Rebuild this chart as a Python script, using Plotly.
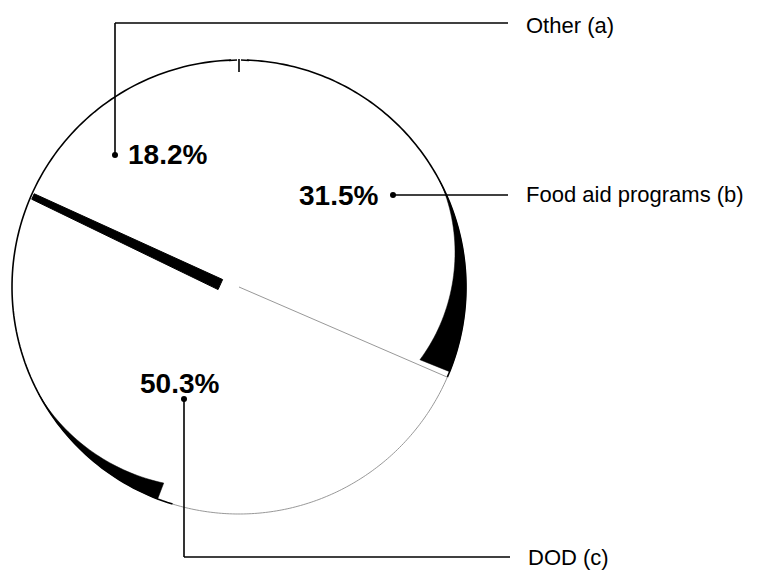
import math
import plotly.graph_objects as go

# ---- data ----
categories = ["Food aid programs (b)", "DOD (c)", "Other (a)"]
shares = [31.5, 50.3, 18.2]
pct_labels = ["31.5%", "50.3%", "18.2%"]

W, H = 760, 570
CX, CY, R = 239, 287, 227   # pie centre / radius in pixels (layout)

def px(x, y):
    return x / W, 1 - y / H

def polar(t_deg, r):
    t = math.radians(t_deg)
    return CX + r * math.sin(t), CY - r * math.cos(t)

fig = go.Figure()

x0, y_top = px(CX - R, CY - R)
x1, y_bot = px(CX + R, CY + R)
fig.add_trace(go.Pie(
    labels=categories,
    values=shares,
    sort=False,
    direction="clockwise",
    rotation=0,
    textinfo="none",
    hoverinfo="label+percent",
    marker=dict(colors=["white"] * len(shares), line=dict(color="white", width=0)),
    domain=dict(x=[x0, x1], y=[y_bot, y_top]),
    showlegend=False,
))

shapes = []
annotations = []

def pstr(points, close=True):
    s = ""
    for i, (x, y) in enumerate(points):
        p = px(x, y)
        s += ("M" if i == 0 else "L") + f"{p[0]:.5f},{p[1]:.5f} "
    return s + ("Z" if close else "")

def line(xa, ya, xb, yb, color="black", width=1.6):
    a = px(xa, ya)
    b = px(xb, yb)
    shapes.append(dict(type="line", xref="paper", yref="paper",
                       x0=a[0], y0=a[1], x1=b[0], y1=b[1],
                       line=dict(color=color, width=width)))

def dot(x, y, r=3):
    a = px(x - r, y - r)
    b = px(x + r, y + r)
    shapes.append(dict(type="circle", xref="paper", yref="paper",
                       x0=a[0], y0=b[1], x1=b[0], y1=a[1],
                       fillcolor="black", line=dict(color="black", width=0)))

def text(x, y, s, size, bold=False, anchor="left"):
    p = px(x, y)
    annotations.append(dict(xref="paper", yref="paper", x=p[0], y=p[1],
                            text=f"<b>{s}</b>" if bold else s,
                            showarrow=False, xanchor=anchor, yanchor="middle",
                            font=dict(family="Liberation Sans, Arial, sans-serif",
                                      size=size, color="black")))

def arc(t_start, t_end, color, width, n=120):
    pts = [polar(t_start + (t_end - t_start) * i / n, R) for i in range(n + 1)]
    shapes.append(dict(type="path", xref="paper", yref="paper",
                       path=pstr(pts, close=False),
                       line=dict(color=color, width=width)))

# slice boundary angles (clockwise from 12 o'clock), derived from the data
total = sum(shares)
b_food_dod = 360 * shares[0] / total
b_dod_other = 360 * (shares[0] + shares[1]) / total

# outer rim: solid black on the upper part, faint grey along the lower right
arc(2, b_food_dod, "black", 1.6)
arc(197, 358, "black", 1.6)
arc(b_food_dod, 197, "#8c8c8c", 0.9)

# thin grey boundary Food aid / DOD
ox, oy = polar(b_food_dod, R)
line(CX, CY, ox, oy, color="#8c8c8c", width=0.9)

# black band along DOD / Other boundary (shadow), slightly wider inward
t = math.radians(b_dod_other)
dx, dy = math.sin(t), -math.cos(t)
nx, ny = -dy, dx
if ny < 0:
    nx, ny = -nx, -ny
outer = polar(b_dod_other, R - 2)
inner = polar(b_dod_other, 18)
shapes.append(dict(type="path", xref="paper", yref="paper",
                   path=pstr([inner, outer,
                              (outer[0] + 6 * nx, outer[1] + 6 * ny),
                              (inner[0] + 11 * nx, inner[1] + 11 * ny)]),
                   fillcolor="black", line=dict(color="black", width=1)))

# crescent shadow on the rim of a slice
def crescent(t_start, t_end, wmax, power=1.4, n=40):
    outer_pts, inner_pts = [], []
    for i in range(n + 1):
        tt = t_start + (t_end - t_start) * i / n
        s = i / n
        w = wmax * s ** power
        outer_pts.append(polar(tt, R))
        inner_pts.append(polar(tt, R - w))
    return pstr(outer_pts + inner_pts[::-1])

shapes.append(dict(type="path", xref="paper", yref="paper",
                   path=crescent(62, b_food_dod - 1.5, 32),
                   fillcolor="black", line=dict(color="black", width=0.5)))
shapes.append(dict(type="path", xref="paper", yref="paper",
                   path=crescent(242, 201, 17),
                   fillcolor="black", line=dict(color="black", width=0.5)))

# small notch at 12 o'clock (Food aid / Other boundary)
nxp, nyp = polar(0, R)
line(nxp, nyp - 1, nxp, nyp + 12, width=1.6)
line(nxp - 10, nyp + 0.5, nxp - 2, nyp, width=1.6)
line(nxp + 2, nyp, nxp + 10, nyp + 0.5, width=1.6)

# Food aid leader
dot(393, 195)
line(393, 195, 508, 195)
text(524, 195, categories[0], 22)
text(338, 196, pct_labels[0], 28, bold=True, anchor="center")

# DOD leader
dot(184, 399)
line(184, 399, 184, 557)
line(184, 557, 510, 557)
text(526, 557, categories[1], 22)
text(179, 383, pct_labels[1], 28, bold=True, anchor="center")

# Other leader
dot(115, 155)
line(115, 155, 115, 23)
line(115, 23, 508, 23)
text(524, 25, categories[2], 22)
text(167, 155, pct_labels[2], 28, bold=True, anchor="center")

fig.update_layout(
    width=W, height=H,
    margin=dict(l=0, r=0, t=0, b=0),
    paper_bgcolor="white",
    plot_bgcolor="white",
    shapes=shapes,
    annotations=annotations,
)

fig.write_html("out.html")
